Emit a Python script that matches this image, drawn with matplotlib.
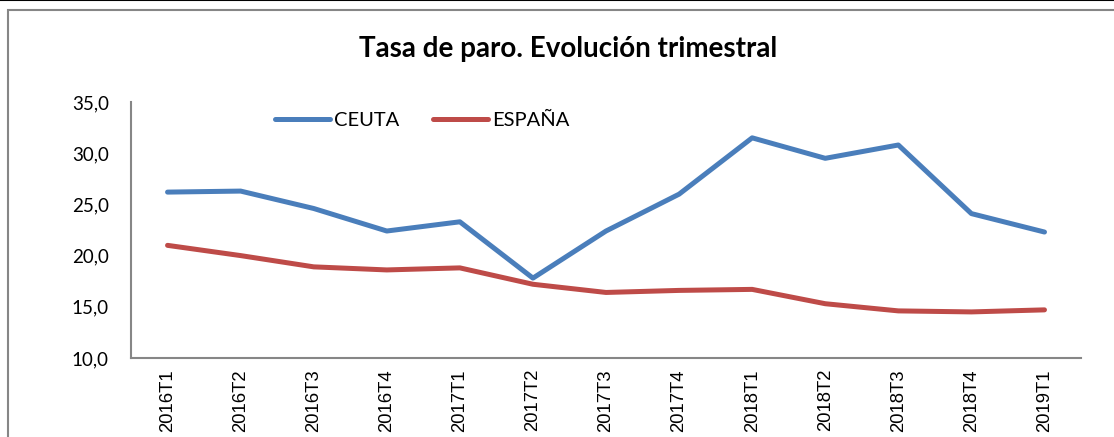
import matplotlib
matplotlib.use("Agg")
import matplotlib.pyplot as plt
from matplotlib.patches import Rectangle
from matplotlib.lines import Line2D
from matplotlib.ticker import FuncFormatter

# Data
trimestres = ['2016T1', '2016T2', '2016T3', '2016T4', '2017T1', '2017T2', '2017T3',
              '2017T4', '2018T1', '2018T2', '2018T3', '2018T4', '2019T1']
ceuta = [26.2, 26.3, 24.6, 22.4, 23.3, 17.8, 22.4, 26.0, 31.5, 29.5, 30.8, 24.1, 22.3]
espana = [21.0, 20.0, 18.9, 18.6, 18.8, 17.2, 16.4, 16.6, 16.7, 15.3, 14.6, 14.5, 14.7]

plt.rcParams['font.family'] = ['Lato', 'DejaVu Sans']

fig = plt.figure(figsize=(11.14, 4.37), dpi=100)
ax = fig.add_axes([0.1176, 0.1808, 0.8528, 0.5858])

x = list(range(len(trimestres)))
ax.plot(x, ceuta, color='#4A7EBB', lw=3.6, label='CEUTA', solid_capstyle='round')
ax.plot(x, espana, color='#BE4B48', lw=3.6, label='ESPAÑA', solid_capstyle='round')

ax.set_xlim(-0.5, len(trimestres) - 0.5)
ax.set_ylim(10, 35)
ax.set_yticks([10, 15, 20, 25, 30, 35])
ax.yaxis.set_major_formatter(FuncFormatter(lambda v, p: f"{v:.1f}".replace('.', ',')))
ax.set_xticks(x)
ax.set_xticklabels(trimestres, rotation=90, family=['Liberation Sans', 'DejaVu Sans'])
ax.tick_params(axis='both', length=0, labelsize=13.5)
ax.tick_params(axis='x', labelsize=13.3, pad=8)
ax.tick_params(axis='y', pad=16)

for s in ['top', 'right']:
    ax.spines[s].set_visible(False)
for s in ['left', 'bottom']:
    ax.spines[s].set_color('#868686')
    ax.spines[s].set_linewidth(1.5)

ax.legend(loc='upper left', bbox_to_anchor=(0.133, 1.032), ncol=2, frameon=False,
          fontsize=14.5, handlelength=2.7, handletextpad=0.2, columnspacing=1.7)

fig.text(0.51, 0.888, 'Tasa de paro. Evolución trimestral', ha='center', va='center',
         fontsize=20, fontweight='bold')

# outer frame
fig.add_artist(Rectangle((8 / 1114, -0.1), 1.2, 1 - 10 / 437 + 0.1, transform=fig.transFigure,
                         fill=False, edgecolor='#868686', lw=1.5))
fig.add_artist(Line2D([0, 1], [0.999, 0.999], transform=fig.transFigure, color='black', lw=1.5))

fig.savefig('out.png', dpi=100)
